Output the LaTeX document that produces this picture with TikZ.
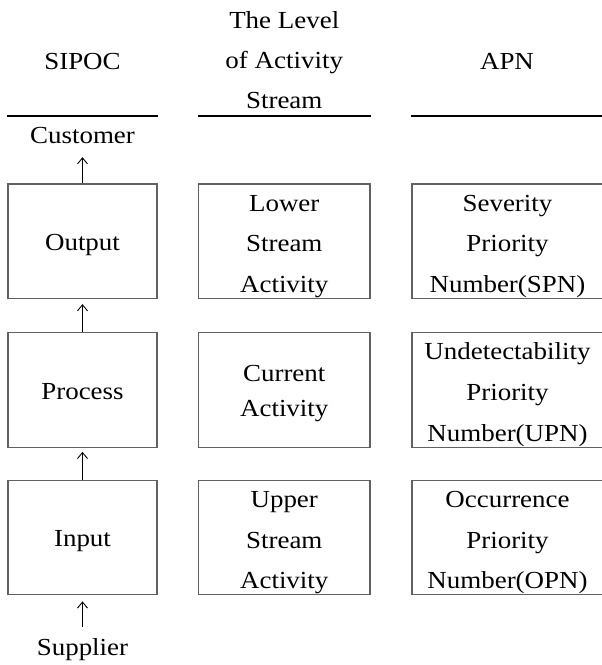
\documentclass[tikz,border=0pt]{standalone}
\usepackage{fontspec}
\setmainfont{Liberation Serif}[FakeStretch=1.1]
\usetikzlibrary{arrows.meta}
\begin{document}
\begin{tikzpicture}[x=1pt,y=-1pt,
  every node/.style={font=\fontsize{24.5}{40.8}\selectfont, inner sep=0pt},
  % text height/depth fix where the last text line sits inside each box
  stage/.style={draw=black!62, line width=1.2pt, rectangle, align=center,
                minimum height=114.5pt, text height=25.6pt, text depth=7pt},
  three/.style={text height=104.9pt, text depth=2pt},
  two/.style={font=\fontsize{24.5}{34.3}\selectfont, text height=59pt},
  sipoc/.style={stage, minimum width=149pt},
  level/.style={stage, minimum width=171.5pt},
  apn/.style={stage, minimum width=191pt, three},
  lbl/.style={anchor=base, text height=17pt, text depth=0pt},
  head/.style={anchor=base, align=center},
  rule/.style={line width=1.2pt},
  flow/.style={line width=0.9pt, -{Straight Barb[length=6pt,width=10pt]}}]
\useasboundingbox (0,0) rectangle (602,665);

% column headings
\node[head] (hS) at (82.5,69.3) {SIPOC};
\node[head, font=\fontsize{24.5}{40}\selectfont] (hL) at (284.25,108.3)
  {The Level\\of Activity\\Stream};
\node[head] (hA) at (507,69.3) {APN};

% SIPOC column
\node[sipoc] (out)  at (82.5,241.25) {Output};
\node[sipoc] (proc) at (82.5,390)    {Process};
\node[sipoc] (inp)  at (82.5,537.5)  {Input};
\node[lbl] (cust) at (82.5,143) {Customer};
\node[lbl] (supp) at (82.5,655) {Supplier};

% activity stream column
\node[level, three] (low) at (284.25,241.25) {Lower\\Stream\\Activity};
\node[level, two]   (cur) at (284.25,390)    {Current\\Activity};
\node[level, three] (upp) at (284.25,537.5)  {Upper\\Stream\\Activity};

% APN column
\node[apn] (spn) at (507.5,241.25) {Severity\\Priority\\Number(SPN)};
\node[apn] (upn) at (507.5,390)    {Undetectability\\Priority\\Number(UPN)};
\node[apn] (opn) at (507.5,537.5)  {Occurrence\\Priority\\Number(OPN)};

% rules under the headings
\draw[rule] (out.west |- 0,116) -- (out.east |- 0,116);
\draw[rule] (low.west |- 0,116) -- (low.east |- 0,116);
\draw[rule] (spn.west |- 0,116) -- (spn.east |- 0,116);

% flow from supplier to customer
\draw[flow, shorten <=11pt, shorten >=6pt] (supp.north) -- (inp.south);
\draw[flow, shorten >=4pt] (inp.north) -- (proc.south);
\draw[flow, shorten >=5pt] (proc.north) -- (out.south);
\draw[flow, shorten >=14pt] (out.north) -- (cust.south);
\end{tikzpicture}
\end{document}
